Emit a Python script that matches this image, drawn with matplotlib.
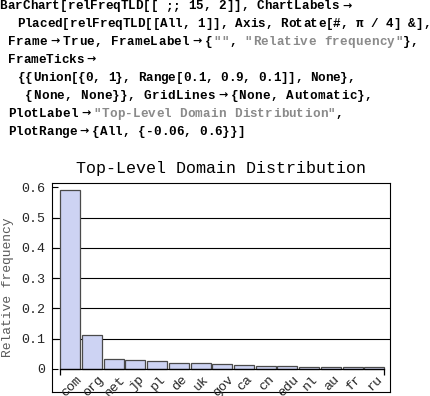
import matplotlib
matplotlib.use("Agg")
import matplotlib.pyplot as plt
from matplotlib.markers import TICKDOWN

# ---- data ----
domains = ["com", "org", "net", "jp", "pl", "de", "uk", "gov", "ca", "cn",
           "edu", "nl", "au", "fr", "ru"]
rel_freq = [0.592, 0.111, 0.032, 0.029, 0.025, 0.019, 0.019, 0.0155, 0.0125,
            0.0095, 0.0095, 0.0065, 0.0065, 0.0065, 0.0065]
y_ticks = [0, 0.1, 0.2, 0.3, 0.4, 0.5, 0.6]
y_tick_labels = ["0", "0.1", "0.2", "0.3", "0.4", "0.5", "0.6"]
grid_vals = [0.1, 0.2, 0.3, 0.4, 0.5]
title = "Top-Level Domain Distribution"
ylabel = "Relative frequency"

code_lines = [
    [("BarChart[relFreqTLD[[ ;; 15, 2]], ChartLabels →", "k")],
    [("Placed[relFreqTLD[[All, 1]], Axis, Rotate[#, π / 4] &],", "k")],
    [("Frame → True, FrameLabel → {", "k"), ('""', "g"), (", ", "k"),
     ('"Relative frequency"', "g"), ("},", "k")],
    [("FrameTicks →", "k")],
    [("{{Union[{0, 1}, Range[0.1, 0.9, 0.1]], None},", "k")],
    [("{None, None}}, GridLines → {None, Automatic},", "k")],
    [("PlotLabel → ", "k"), ('"Top-Level Domain Distribution"', "g"), (",", "k")],
    [("PlotRange → {All, {-0.06, 0.6}}]", "k")],
]
code_start_px = [-0.5, 16.8, 7.8, 7.8, 17.8, 25.2, 7.8, 7.8]
code_adv_px = [7.55, 7.53, 7.9, 7.6, 7.5, 7.9, 7.8, 7.65]

W, H = 431, 396
fig = plt.figure(figsize=(W / 100, H / 100), dpi=100)

# ---- code text (monospace, laid out cell by cell) ----
code_fs = 9.1
mono = ["Liberation Mono", "DejaVu Sans Mono"]
for i, segs in enumerate(code_lines):
    base_y = 9.3 + 17.9 * i
    adv = code_adv_px[i]
    pos = code_start_px[i]
    for txt, c in segs:
        col = "#000000" if c == "k" else "#8a8a8a"
        j = 0
        while j < len(txt):
            ch = txt[j]
            if txt[j:j + 2] == " →":
                # displayed rule arrow occupies about two cells
                fig.text((pos + adv) / W, 1 - (base_y - 3.6) / H, "→",
                         family="DejaVu Sans", fontsize=8,
                         fontweight="bold", color=col, ha="center",
                         va="center")
                pos += 2 * adv
                j += 2
                if j < len(txt) and txt[j] == " ":
                    j += 1
                continue
            if ch != " ":
                fig.text(pos / W, 1 - base_y / H, ch, family=mono,
                         fontsize=code_fs, fontweight="bold", color=col,
                         ha="left", va="baseline")
            pos += adv
            j += 1

# ---- chart ----
left, right, top, bottom = 51.7, 390.0, 182.7, 392.0
ax = fig.add_axes([left / W, 1 - bottom / H, (right - left) / W, (bottom - top) / H])
x = list(range(len(domains)))
ax.bar(x, rel_freq, width=0.92, color="#cdd3f3", edgecolor="#4a4a4a",
       linewidth=0.9, zorder=3)
ax.set_xlim(-0.857, 14.726)
ax.set_ylim(-0.076, 0.615)

for g in grid_vals:
    ax.axhline(g, color="black", linewidth=0.8, zorder=1)

ax.plot([-0.46, 14.46], [0, 0], color="black", linewidth=0.9, zorder=4)
ax.plot([-0.46, 14.46], [0, 0], linestyle="none", marker=TICKDOWN,
        markersize=4, color="black", markeredgewidth=0.9, zorder=4)

ax.set_xticks([])
ax.set_yticks(y_ticks)
ax.set_yticklabels(y_tick_labels, family="Liberation Mono", fontsize=9.6,
                   color="#262626")
ax.tick_params(axis="y", direction="in", length=4, width=0.8, pad=5)
for s in ax.spines.values():
    s.set_linewidth(0.8)

for xi, lab in zip(x, domains):
    ax.annotate(lab, (xi, 0), xytext=(0.8, -3.2), textcoords="offset points",
                rotation=45, ha="center", va="top", family="Liberation Mono",
                fontsize=9.6, color="#262626", annotation_clip=False)

fig.text(220.8 / W, 1 - 173 / H, title, family="Liberation Mono", fontsize=12,
         color="black", ha="center", va="baseline")
fig.text(8.3 / W, 1 - 287 / H, ylabel, family="Liberation Mono", fontsize=9.4,
         color="#5a5a5a", rotation=90, ha="center", va="center")

fig.savefig("out.png", dpi=100)
